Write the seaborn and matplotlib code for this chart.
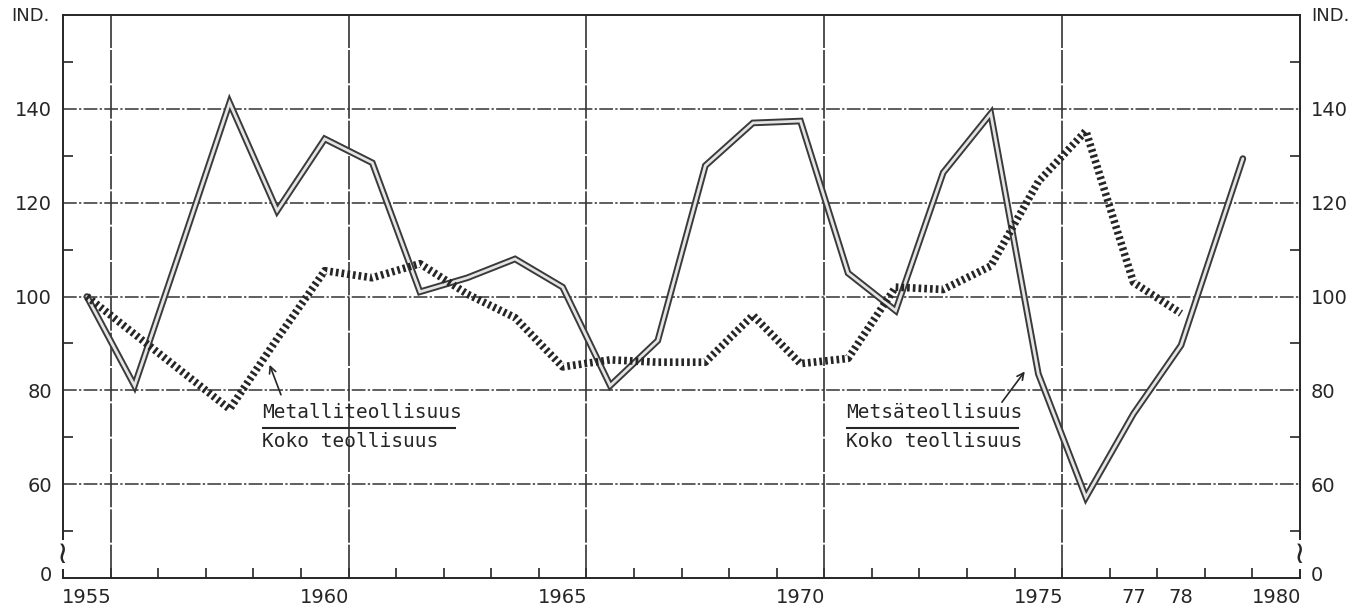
import pandas as pd
import matplotlib
matplotlib.use("Agg")
import matplotlib.pyplot as plt
import matplotlib.transforms as mtransforms
import seaborn as sns

# Metalliteollisuus / Koko teollisuus (pisteviiva)
vuodet_metalli = [1955, 1956, 1957, 1958, 1959, 1960, 1961, 1962, 1963, 1964,
                  1965, 1966, 1967, 1968, 1969, 1970, 1971, 1972, 1973, 1974,
                  1975, 1976, 1977, 1978]
metalli = [100, 92, 84, 76, 91, 105.5, 104, 107, 100.5, 95.5,
           85, 86.5, 86, 86, 96, 85.7, 86.8, 102, 101.5, 106.5,
           124.5, 135.3, 103, 96.4]

# Metsäteollisuus / Koko teollisuus (kaksoisviiva)
vuodet_metsa = [1955, 1956, 1957, 1958, 1959, 1960, 1961, 1962, 1963, 1964,
                1965, 1966, 1967, 1968, 1969, 1970, 1971, 1972, 1973, 1974,
                1975, 1976, 1977, 1978, 1979.3]
metsa = [100, 81, 111, 141.3, 118.3, 133.6, 128.5, 101, 104, 108,
         102, 81, 90.6, 127.9, 137, 137.4, 105, 97, 126.4, 139,
         83.5, 57.2, 75, 89.6, 129.4]

x_tikit = [1955, 1960, 1965, 1970, 1975, 1977, 1978, 1980]
x_tekstit = ["1955", "1960", "1965", "1970", "1975", "77", "78", "1980"]
y_tikit = [41, 60, 80, 100, 120, 140]
y_tekstit = ["0", "60", "80", "100", "120", "140"]

sns.set_theme(style="ticks")
plt.rcParams['font.family'] = ['DejaVu Sans']

musta = "#262626"

fig = plt.figure(figsize=(13.72, 6.16), dpi=100)
ax = fig.add_axes([0.046, 0.0617, 0.9015, 0.9139])
ax.set_xlim(1954.5, 1980.5)
ax.set_ylim(40, 160)

# ruudukko
for y in [60, 80, 100, 120, 140]:
    ax.axhline(y, color="#333333", lw=1.1, ls=(0, (9, 1.5, 1.5, 1.5)), zorder=1)
for x in [1955.5, 1960.5, 1965.5, 1970.5, 1975.5]:
    ax.axvline(x, color="#333333", lw=1.2, ls=(0, (20, 1.2)), zorder=1)

df_metalli = pd.DataFrame({"vuosi": vuodet_metalli, "indeksi": metalli})
df_metsa = pd.DataFrame({"vuosi": vuodet_metsa, "indeksi": metsa})

# kaksoisviiva: tumma leveä + vaalea kapea päälle
sns.lineplot(data=df_metsa, x="vuosi", y="indeksi", ax=ax, color="#3a3a3a",
             lw=4.8, solid_joinstyle="miter", zorder=3)
sns.lineplot(data=df_metsa, x="vuosi", y="indeksi", ax=ax, color="#e4e4e4",
             lw=2.0, solid_joinstyle="miter", zorder=4)

# paksu pisteviiva
sns.lineplot(data=df_metalli, x="vuosi", y="indeksi", ax=ax, color=musta,
             lw=5.5, linestyle=(0, (0.35, 0.4)), dash_capstyle="butt", zorder=5)

# selitteet murtolukuina
ax.text(1958.69, 75.3, "Metalliteollisuus", family="DejaVu Sans Mono",
        fontsize=14, color=musta, ha="left", va="center")
ax.hlines(71.9, 1958.69, 1962.75, color=musta, lw=1.5)
ax.text(1958.69, 69.2, "Koko teollisuus", family="DejaVu Sans Mono",
        fontsize=14, color=musta, ha="left", va="center")
ax.annotate("", xy=(1958.82, 86), xytext=(1959.1, 78.5),
            arrowprops=dict(arrowstyle="->", lw=1.2, color=musta))

ax.text(1970.95, 75.3, "Metsäteollisuus", family="DejaVu Sans Mono",
        fontsize=14, color=musta, ha="left", va="center")
ax.hlines(71.9, 1970.95, 1974.6, color=musta, lw=1.5)
ax.text(1970.95, 69.2, "Koko teollisuus", family="DejaVu Sans Mono",
        fontsize=14, color=musta, ha="left", va="center")
ax.annotate("", xy=(1974.75, 84.5), xytext=(1974.2, 77),
            arrowprops=dict(arrowstyle="->", lw=1.2, color=musta))

# akselit
ax.set_xticks(x_tikit)
ax.set_xticklabels(x_tekstit)
ax.set_xticks([v + 0.5 for v in range(1955, 1980)], minor=True)
ax.set_yticks(y_tikit)
ax.set_yticklabels(y_tekstit)
ax.set_yticks([50, 70, 90, 110, 130, 150], minor=True)
ax.tick_params(axis="x", which="major", length=0, pad=7, labelsize=14,
               colors=musta, bottom=True)
ax.tick_params(axis="x", which="minor", direction="in", length=7, width=1.2,
               color=musta, bottom=True, top=False)
ax.tick_params(axis="y", which="major", length=0, pad=8, labelsize=14,
               colors=musta, left=True, right=True, labelleft=True, labelright=True)
ax.tick_params(axis="y", which="minor", direction="in", length=7, width=1.2,
               color=musta, left=True, right=True)
ax.set_xlabel("")
ax.set_ylabel("")
for s in ax.spines.values():
    s.set_visible(True)
    s.set_color(musta)
    s.set_linewidth(1.4)

# akselin katkokohdat
tr = mtransforms.blended_transform_factory(ax.transAxes, ax.transData)
for xa in [0, 1]:
    ax.text(xa, 45, "≀", transform=tr, ha="center", va="center", fontsize=22,
            color=musta, bbox=dict(fc="white", ec="none", pad=0.3), zorder=6)

fig.text(0.022, 0.974, "IND.", ha="center", va="center", fontsize=13, color=musta)
fig.text(0.970, 0.974, "IND.", ha="center", va="center", fontsize=13, color=musta)

fig.savefig("out.png", dpi=100)
